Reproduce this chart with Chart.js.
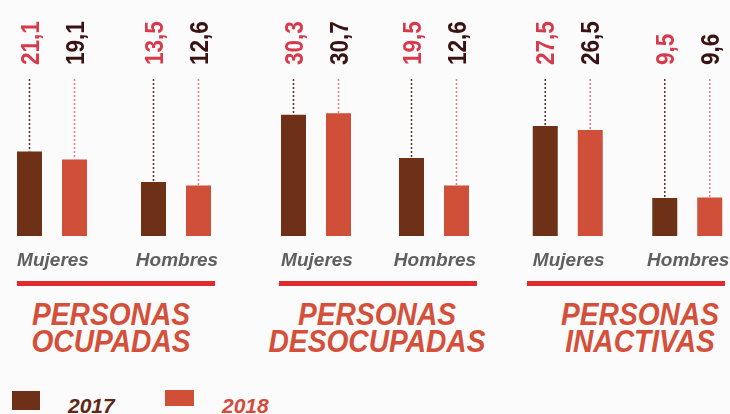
<!DOCTYPE html>
<html><head><meta charset="utf-8">
<script src="https://cdn.jsdelivr.net/npm/chart.js@4"></script>
<style>
html,body{margin:0;padding:0;background:#fbfbfb;}
#wrap{position:relative;width:730px;height:414px;overflow:hidden;font-family:"Liberation Sans",Arial,sans-serif;background:#fbfbfb;}
.panel{position:absolute;top:0;height:290px;}
.rule{position:absolute;height:5px;top:281px;width:198px;background:#df2b2b;}
.title{position:absolute;top:301px;width:300px;text-align:center;font-weight:bold;font-style:italic;font-size:32px;line-height:27px;color:#d4503a;transform:scaleX(0.88);transform-origin:50% 0;white-space:nowrap;}
.box{position:absolute;}
.ltext{position:absolute;top:395px;font-weight:bold;font-style:italic;font-size:21px;line-height:21px;}
</style>
</head><body>
<div id="wrap">
  <div class="panel" style="left:-10px;width:248px"><canvas id="c0" width="248" height="290"></canvas></div>
  <div class="panel" style="left:257px;width:236px"><canvas id="c1" width="236" height="290"></canvas></div>
  <div class="panel" style="left:508px;width:239px"><canvas id="c2" width="239" height="290"></canvas></div>
  <div class="rule" style="left:17px"></div>
  <div class="rule" style="left:279px"></div>
  <div class="rule" style="left:527px"></div>
  <div class="title" id="t0" style="left:-39px"></div>
  <div class="title" id="t1" style="left:227px"></div>
  <div class="title" id="t2" style="left:490px"></div>
  <div class="box" style="left:12px;top:391px;width:28px;height:19px;background:#6e3118"></div>
  <div class="ltext" id="l0" style="left:68px;color:#5e2814"></div>
  <div class="box" style="left:165px;top:390px;width:29px;height:16px;background:#cf4f38"></div>
  <div class="ltext" id="l1" style="left:222px;color:#d44a3c"></div>
</div>
<script>
const categories = ["Mujeres", "Hombres"];
const seriesNames = ["2017", "2018"];
const panelTitles = [["PERSONAS", "OCUPADAS"], ["PERSONAS", "DESOCUPADAS"], ["PERSONAS", "INACTIVAS"]];
const ocupadas2017 = [21.1, 13.5];
const ocupadas2018 = [19.1, 12.6];
const desocupadas2017 = [30.3, 19.5];
const desocupadas2018 = [30.7, 12.6];
const inactivas2017 = [27.5, 9.5];
const inactivas2018 = [26.5, 9.6];

const panels = [
  {id: "c0", a: ocupadas2017, b: ocupadas2018, catW: 124},
  {id: "c1", a: desocupadas2017, b: desocupadas2018, catW: 118},
  {id: "c2", a: inactivas2017, b: inactivas2018, catW: 119.5}
];

const barColors = ["#6e3118", "#cf4f38"];
const labelColors = ["#d83a4c", "#3a1212"];
const leaderColors = ["#5b2a2e", "#ec7d86"];

panelTitles.forEach((t, i) => {
  document.getElementById("t" + i).innerHTML = t.join("<br>");
});
seriesNames.forEach((s, i) => { document.getElementById("l" + i).textContent = s; });

const fmt = v => v.toFixed(1).replace(".", ",");

const decor = {
  id: "decor",
  afterDatasetsDraw(chart) {
    const ctx = chart.ctx;
    ctx.save();
    chart.data.datasets.forEach((ds, di) => {
      const meta = chart.getDatasetMeta(di);
      meta.data.forEach((el, j) => {
        const x = el.x, top = el.y;
        ctx.beginPath();
        ctx.setLineDash([2, 2]);
        ctx.lineWidth = 1.5;
        ctx.strokeStyle = leaderColors[di];
        ctx.moveTo(x, 79);
        ctx.lineTo(x, top);
        ctx.stroke();
        ctx.setLineDash([]);
        ctx.save();
        ctx.translate(x + 9, 65);
        ctx.rotate(-Math.PI / 2);
        ctx.scale(0.9, 1);
        ctx.font = "bold 25px 'Liberation Sans', Arial, sans-serif";
        ctx.fillStyle = labelColors[di];
        ctx.textAlign = "left";
        ctx.textBaseline = "alphabetic";
        ctx.fillText(fmt(ds.data[j]), 0, 0);
        ctx.restore();
      });
    });
    const xs = chart.scales.x;
    ctx.font = "italic bold 19px 'Liberation Sans', Arial, sans-serif";
    ctx.fillStyle = "#5f5f5f";
    ctx.textAlign = "center";
    ctx.textBaseline = "alphabetic";
    chart.data.labels.forEach((l, i) => {
      ctx.fillText(l, xs.getPixelForValue(i) + 1, 266);
    });
    ctx.restore();
  }
};

panels.forEach(p => {
  new Chart(document.getElementById(p.id), {
    type: "bar",
    data: {
      labels: categories,
      datasets: [
        {label: seriesNames[0], data: p.a, backgroundColor: barColors[0]},
        {label: seriesNames[1], data: p.b, backgroundColor: barColors[1]}
      ]
    },
    options: {
      responsive: false,
      animation: false,
      devicePixelRatio: 1,
      layout: {padding: {top: 0, bottom: 54, left: 0, right: 0}},
      datasets: {bar: {categoryPercentage: 90 / p.catW, barPercentage: 25 / 45}},
      scales: {
        x: {display: false},
        y: {display: false, min: 0, max: 59}
      },
      plugins: {legend: {display: false}, tooltip: {enabled: false}}
    },
    plugins: [decor]
  });
});
</script>
</body></html>
